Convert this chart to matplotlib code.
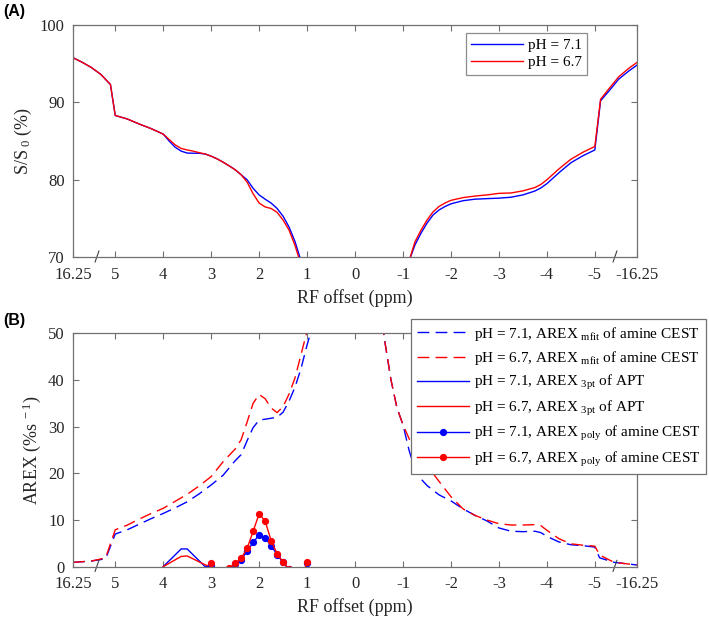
import matplotlib.pyplot as plt
import numpy as np

plt.rcParams['font.family'] = ['Liberation Serif', 'DejaVu Serif']
plt.rcParams['mathtext.fontset'] = 'custom'
plt.rcParams['mathtext.rm'] = 'Liberation Serif'
plt.rcParams['mathtext.it'] = 'Liberation Serif:italic'

# broken x axis: the edge position stands for +-16.25 ppm
edge = 5.88
tick_pos = [edge, 5, 4, 3, 2, 1, 0, -1, -2, -3, -4, -5, -edge]
tick_lab = ['16.25', '5', '4', '3', '2', '1', '0', '-1', '-2', '-3', '-4', '-5', '-16.25']

# (A) Z-spectra
za_x = [5.88, 5.7, 5.5, 5.3, 5.1, 5.0, 4.75, 4.5, 4.25, 4.0,
        3.875, 3.75, 3.625, 3.5, 3.375, 3.25, 3.125, 3.0,
        2.875, 2.75, 2.625, 2.5, 2.375, 2.25, 2.125, 2.0,
        1.875, 1.75, 1.625, 1.5, 1.375, 1.25, 1.125, 1.0,
        0.5, 0.0, -0.5,
        -1.0, -1.125, -1.25, -1.375, -1.5, -1.625, -1.75, -1.875, -2.0,
        -2.25, -2.5, -2.75, -3.0, -3.25, -3.5, -3.75, -3.875, -4.0,
        -4.25, -4.5, -4.75, -5.0,
        -5.12, -5.3, -5.5, -5.7, -5.88]
za_71 = [95.75, 95.2, 94.5, 93.6, 92.3, 88.3, 87.85, 87.2, 86.6, 85.9,
         85.0, 84.2, 83.7, 83.45, 83.43, 83.42, 83.33, 83.05,
         82.7, 82.27, 81.8, 81.3, 80.65, 80.0, 78.9, 78.05,
         77.5, 77.0, 76.3, 75.3, 73.9, 72.0, 69.5, 66.5,
         55, 45, 55,
         66.5, 69.5, 71.6, 73.1, 74.4, 75.45, 76.1, 76.55, 76.9,
         77.3, 77.5, 77.57, 77.63, 77.75, 78.05, 78.55, 78.95, 79.5,
         80.9, 82.2, 83.1, 83.85,
         90.2, 91.5, 93.0, 94.0, 94.8]
za_67 = [95.75, 95.2, 94.5, 93.6, 92.3, 88.3, 87.85, 87.2, 86.6, 85.9,
         85.2, 84.5, 84.05, 83.85, 83.7, 83.5, 83.33, 83.05,
         82.7, 82.27, 81.8, 81.3, 80.65, 79.7, 78.2, 77.0,
         76.5, 76.3, 75.8, 74.8, 73.5, 71.5, 69.0, 66.0,
         55, 45, 55,
         66.5, 69.5, 72.0, 73.5, 74.8, 75.85, 76.55, 77.0, 77.35,
         77.7, 77.9, 78.05, 78.25, 78.3, 78.57, 79.0, 79.4, 80.0,
         81.4, 82.65, 83.55, 84.3,
         90.4, 91.8, 93.3, 94.35, 95.15]

# (B) AREX from multi-pool fit
mf_x = [5.88, 5.5, 5.2, 5.0, 4.75, 4.5, 4.25, 4.0, 3.75, 3.5, 3.25, 3.0,
        2.75, 2.5, 2.375, 2.25, 2.125, 2.0,
        1.875, 1.75, 1.625, 1.5, 1.375, 1.25, 1.125, 1.0, 0.875,
        0.5, 0.0, -0.5, -0.625, -0.75, -0.875, -1.0,
        -1.125, -1.25, -1.375, -1.5, -1.75, -2.0,
        -2.25, -2.5, -2.75, -3.0, -3.25, -3.5, -3.75, -3.875, -4.0,
        -4.25, -4.5, -4.75, -5.0, -5.1, -5.4, -5.88]
mf_71 = [0.93, 1.2, 1.7, 7.0, 7.9, 9.1, 10.3, 11.4, 12.6, 13.9, 15.6, 17.5,
         19.6, 22.7, 24.0, 27.0, 29.8, 31.4,
         31.6, 31.8, 32.0, 33.1, 35.5, 38.5, 42.5, 47.5, 52.0,
         90, 150, 57, 48, 40, 34, 30.4,
         25.0, 20.8, 18.8, 17.4, 15.4, 14.1,
         12.4, 11.0, 9.8, 8.3, 7.6, 7.5, 7.6, 7.3, 6.5,
         5.3, 4.7, 4.5, 4.2, 1.9, 0.93, 0.36]
mf_67 = [0.93, 1.2, 1.9, 7.9, 8.9, 10.2, 11.4, 12.5, 14.0, 15.5, 17.3, 19.3,
         22.5, 25.2, 27.2, 31.0, 35.0, 36.9,
         36.0, 34.0, 33.0, 34.3, 37.0, 40.5, 45.5, 50.5, 58.0,
         95, 160, 57, 48, 40, 34, 30.4,
         27.5, 24.5, 23.0, 21.7, 18.3, 15.0,
         12.4, 11.0, 10.0, 9.2, 8.93, 8.93, 9.0, 8.8, 7.8,
         6.0, 4.9, 4.6, 4.4, 2.5, 0.93, 0.36]

# APT, three-point AREX
apt_x = [4.0, 3.625, 3.5, 3.125, 3.0]
apt_71 = [0, 3.8, 3.8, 0, 0]
apt_67 = [0, 2.2, 2.3, 0.4, 0]

# amine, polynomial AREX
poly_x = [3.0, 2.875, 2.75, 2.625, 2.5, 2.375, 2.25, 2.125, 2.0,
          1.875, 1.75, 1.625, 1.5, 1.375, 1.25, 1.125, 1.0]
poly_71 = [0.3, -3, -3, -0.5, 0.5, 1.5, 3.3, 5.2, 6.8,
           6.2, 4.5, 2.6, 0.9, -0.6, -3, -3, 0.7]
poly_67 = [0.7, -3, -3, -0.3, 0.7, 1.8, 3.9, 7.6, 11.3,
           9.8, 5.6, 2.8, 1.0, -0.6, -3, -3, 1.1]

blue = (0, 0, 1)
red = (1, 0, 0)
edge_col = '#707070'
txt_col = '#262626'
dash = (8.5, 4.5)

fig = plt.figure(figsize=(7.09, 6.2), dpi=100)
axA = fig.add_axes([0.103, 0.585, 0.7955, 0.375])
axB = fig.add_axes([0.103, 0.086, 0.7955, 0.3764])

axA.plot(za_x, za_71, color=blue, lw=1.0, label='pH = 7.1')
axA.plot(za_x, za_67, color=red, lw=1.0, label='pH = 6.7')
axA.set_ylim(70, 100)
axA.set_yticks([70, 80, 90, 100])
axA.set_ylabel('S/S$_{\\ 0}$ (%)', fontsize=13, color=txt_col, labelpad=4)

axB.plot(mf_x, mf_71, color=blue, lw=1.0, dashes=dash,
         label=r'pH = 7.1, AREX $_{\mathrm{mfit}}$ of amine CEST')
axB.plot(mf_x, mf_67, color=red, lw=1.0, dashes=dash,
         label=r'pH = 6.7, AREX $_{\mathrm{mfit}}$ of amine CEST')
axB.plot(apt_x, apt_71, color=blue, lw=1.0,
         label=r'pH = 7.1, AREX $_{\mathrm{3pt}}$ of APT')
axB.plot(apt_x, apt_67, color=red, lw=1.0,
         label=r'pH = 6.7, AREX $_{\mathrm{3pt}}$ of APT')
axB.plot(poly_x, poly_71, color=blue, lw=1.0, marker='o', ms=4.2,
         label=r'pH = 7.1, AREX $_{\mathrm{poly}}$ of amine CEST')
axB.plot(poly_x, poly_67, color=red, lw=1.0, marker='o', ms=4.2,
         label=r'pH = 6.7, AREX $_{\mathrm{poly}}$ of amine CEST')
axB.set_ylim(0, 50)
axB.set_yticks([0, 10, 20, 30, 40, 50])
axB.set_ylabel('AREX (%s$^{\\ -1}$)', fontsize=13, color=txt_col, labelpad=4)

for ax in (axA, axB):
    ax.set_xlim(edge, -edge)
    ax.set_xticks(tick_pos)
    ax.set_xticklabels(tick_lab)
    ax.set_xlabel('RF offset (ppm)', fontsize=13, color=txt_col, labelpad=4)
    ax.tick_params(direction='in', length=4, width=0.8, top=True, right=True,
                   labelsize=12, colors=edge_col, labelcolor=txt_col)
    ax.tick_params(axis='x', pad=7)
    ax.tick_params(axis='y', pad=6)
    for s in ax.spines.values():
        s.set_color(edge_col)
        s.set_linewidth(0.9)
    # axis break marks
    tr = ax.get_xaxis_transform()
    ax.plot([5.42, 5.34], [-0.02, 0.027], color='#404040', lw=0.8,
            transform=tr, clip_on=False)
    ax.plot([-5.38, -5.46], [-0.02, 0.027], color='#404040', lw=0.8,
            transform=tr, clip_on=False)

legA = axA.legend(loc='upper right', bbox_to_anchor=(0.828, 0.947),
                  bbox_transform=fig.transFigure, fontsize=11, frameon=True,
                  fancybox=False, handlelength=3.4, handletextpad=0.3,
                  labelspacing=0.25, borderpad=0.35, borderaxespad=0)
legA.get_frame().set_edgecolor(edge_col)
legA.get_frame().set_linewidth(0.9)

legB = axB.legend(loc='upper right', bbox_to_anchor=(0.996, 0.485),
                  bbox_transform=fig.transFigure, fontsize=11, frameon=True,
                  fancybox=False, handlelength=3.4, handletextpad=0.35,
                  labelspacing=0.42, borderpad=0.35, borderaxespad=0)
legB.get_frame().set_edgecolor(edge_col)
legB.get_frame().set_linewidth(0.9)
legB.get_frame().set_alpha(1)

fig.text(0.004, 0.982, '(A)', fontsize=11.5, fontweight='bold',
         family='Liberation Sans', va='center')
fig.text(0.004, 0.483, '(B)', fontsize=11.5, fontweight='bold',
         family='Liberation Sans', va='center')

fig.savefig('out.png', dpi=100)
